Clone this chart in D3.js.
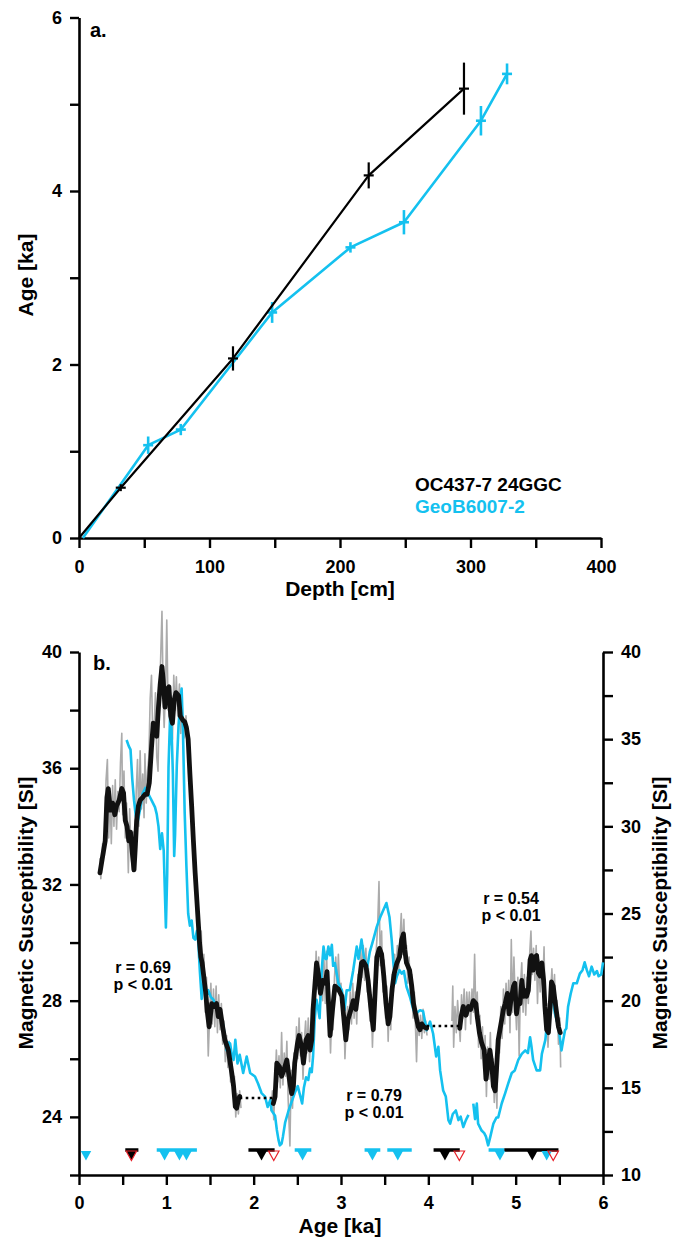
<!DOCTYPE html>
<html><head><meta charset="utf-8">
<script src="https://cdn.jsdelivr.net/npm/d3@7"></script>
<style>
body{margin:0;background:#fff;}
svg{display:block;font-family:"Liberation Sans",Arial,Helvetica,sans-serif;font-weight:bold;}
</style></head>
<body>
<svg id="c" width="688" height="1239"></svg>
<script>
// ---------- Panel a: age-depth ----------
const depthBlack = [0, 32, 118, 222, 295];
const ageBlack   = [0, 0.58, 2.07, 4.18, 5.18];
const errBlack   = [0, 0.04, 0.14, 0.15, 0.30];
const depthCyan  = [3, 53, 78, 148, 208, 249, 308, 328];
const ageCyan    = [0, 1.07, 1.25, 2.60, 3.35, 3.64, 4.81, 5.35];
const errCyan    = [0, 0.10, 0.065, 0.12, 0.06, 0.14, 0.17, 0.12];
const depthTicks = [0, 50, 100, 150, 200, 250, 300, 350, 400];
const ageTicksA  = [0, 1, 2, 3, 4, 5, 6];

// ---------- Panel b: magnetic susceptibility vs age ----------
// OC437-7 24GGC raw (gray), left axis
const grayRaw = [
[0.24,32.9],[0.25,32.2],[0.27,33.4],[0.29,33.0],[0.31,35.6],[0.325,36.3],[0.34,33.6],[0.355,35.2],[0.37,33.4],[0.385,35.4],[0.40,34.0],[0.415,35.6],[0.43,33.9],[0.445,35.2],[0.46,34.5],[0.475,36.2],[0.49,37.2],[0.50,34.4],[0.515,35.9],[0.53,33.6],[0.545,34.8],[0.565,32.4],[0.58,34.6],[0.595,33.2],[0.61,32.5],[0.625,33.8],[0.64,32.9],[0.655,35.2],[0.67,36.3],[0.685,34.0],[0.70,36.6],[0.715,34.6],[0.73,35.8],[0.745,34.3],[0.755,36.5],[0.77,34.8],[0.785,35.9],[0.80,36.4],[0.815,38.4],[0.83,39.2],[0.845,37.0],[0.86,37.3],[0.875,38.6],[0.89,36.4],[0.905,35.9],[0.92,38.4],[0.935,39.8],[0.95,41.4],[0.965,38.3],[0.975,37.4],[0.99,38.6],[1.005,41.1],[1.02,38.0],[1.04,38.0],[1.055,36.8],[1.07,37.0],[1.085,39.2],[1.10,38.0],[1.115,39.15],[1.13,37.8],[1.15,38.9],[1.165,37.2],[1.18,38.3],[1.195,37.0],[1.21,37.1],[1.225,37.8],[1.24,36.9],[1.26,36.6],[1.275,35.0],[1.29,35.3],[1.31,33.0],[1.33,32.8],[1.35,30.8],[1.37,30.6],[1.385,29.0],[1.40,30.4],[1.415,28.4],[1.43,29.6],[1.445,27.6],[1.46,28.8],[1.48,26.1],[1.495,27.4],[1.51,28.6],[1.525,27.2],[1.54,28.4],[1.555,27.1],[1.57,28.5],[1.585,26.9],[1.60,28.2],[1.615,27.0],[1.63,27.9],[1.645,26.5],[1.66,27.3],[1.675,25.9],[1.69,26.8],[1.705,25.7],[1.72,26.6],[1.735,25.2],[1.75,25.9],[1.765,24.7],[1.78,25.4],[1.795,24.0],[1.81,24.8],[1.825,24.1],[1.84,24.9],[1.855,24.3],
null,
[2.20,24.2],[2.215,24.9],[2.23,23.9],[2.245,25.2],[2.26,26.3],[2.275,25.2],[2.29,26.1],[2.305,25.0],[2.32,26.9],[2.335,25.1],[2.35,26.2],[2.365,25.4],[2.38,26.6],[2.395,24.6],[2.415,23.0],[2.43,25.6],[2.445,24.3],[2.46,26.2],[2.475,25.4],[2.49,27.1],[2.505,26.0],[2.52,27.4],[2.535,26.1],[2.55,26.9],[2.565,25.3],[2.58,26.6],[2.595,27.3],[2.61,26.2],[2.625,27.4],[2.64,25.9],[2.655,27.1],[2.67,26.4],[2.685,28.3],[2.70,28.0],[2.715,29.7],[2.73,28.4],[2.745,29.5],[2.76,27.8],[2.775,29.1],[2.79,28.0],[2.805,29.4],[2.82,27.9],[2.835,29.7],[2.85,27.4],[2.865,27.9],[2.88,26.2],[2.895,27.6],[2.91,27.0],[2.925,28.8],[2.94,29.5],[2.955,28.3],[2.97,29.6],[2.985,28.4],[3.00,28.6],[3.015,27.5],[3.03,28.2],[3.045,26.0],[3.06,27.2],[3.075,27.8],[3.09,27.0],[3.105,28.3],[3.12,27.2],[3.135,28.6],[3.15,27.4],[3.165,28.3],[3.18,27.2],[3.195,28.9],[3.21,28.2],[3.225,29.9],[3.24,28.8],[3.255,29.9],[3.27,28.7],[3.285,29.8],[3.30,28.3],[3.315,29.1],[3.33,27.3],[3.345,28.2],[3.36,26.4],[3.375,27.8],[3.39,28.9],[3.405,29.8],[3.42,30.6],[3.435,32.1],[3.45,29.2],[3.465,30.4],[3.48,28.3],[3.495,29.4],[3.51,27.4],[3.525,28.5],[3.54,26.6],[3.555,28.1],[3.57,27.0],[3.585,28.9],[3.60,28.3],[3.615,29.6],[3.63,28.7],[3.645,29.9],[3.66,29.0],[3.675,30.1],[3.69,31.0],[3.705,29.6],[3.72,30.8],[3.735,29.3],[3.75,29.9],[3.765,28.6],[3.78,29.5],[3.795,28.1],[3.81,28.9],[3.825,27.4],[3.84,28.3],[3.855,26.9],[3.865,25.9],[3.88,27.6],[3.895,26.8],[3.91,27.5],[3.925,26.7],[3.94,27.7],[3.955,26.9],[3.97,27.3],[3.985,26.8],
null,
[4.27,27.3],[4.28,28.5],[4.29,26.4],[4.305,27.8],[4.32,26.9],[4.335,28.0],[4.35,27.3],[4.365,26.6],[4.38,28.2],[4.395,27.4],[4.41,28.4],[4.425,27.0],[4.44,28.3],[4.455,27.5],[4.47,28.3],[4.485,27.2],[4.50,28.4],[4.515,27.6],[4.53,29.6],[4.545,27.4],[4.56,28.3],[4.575,26.4],[4.59,27.5],[4.605,26.0],[4.62,27.1],[4.635,25.6],[4.65,26.8],[4.665,24.7],[4.68,26.4],[4.695,25.3],[4.71,26.9],[4.725,25.2],[4.74,26.0],[4.755,24.5],[4.77,25.6],[4.785,24.3],[4.80,26.9],[4.815,26.2],[4.83,27.8],[4.845,26.7],[4.86,28.4],[4.875,27.2],[4.89,28.6],[4.905,27.5],[4.92,28.7],[4.935,26.9],[4.95,30.1],[4.965,27.6],[4.98,29.5],[4.995,28.0],[5.01,27.0],[5.025,28.8],[5.04,26.1],[5.055,28.5],[5.07,29.3],[5.085,27.6],[5.10,28.9],[5.115,27.5],[5.13,28.8],[5.145,27.9],[5.16,29.6],[5.175,30.4],[5.19,28.9],[5.205,29.8],[5.22,28.7],[5.235,29.9],[5.25,27.9],[5.265,29.4],[5.28,28.3],[5.295,29.2],[5.31,28.5],[5.325,29.85],[5.34,27.3],[5.355,27.9],[5.37,26.4],[5.385,27.5],[5.40,28.3],[5.415,29.1],[5.43,28.0],[5.445,28.9],[5.46,27.3],[5.475,28.0],[5.49,26.5],[5.505,27.4],[5.515,25.7]
];

// OC437-7 24GGC smoothed (black), left axis
const blackSmooth = [
[0.24,32.4],[0.27,32.96],[0.30,33.5],[0.32,35.0],[0.335,35.3],[0.36,34.56],[0.385,34.8],[0.41,34.4],[0.43,34.7],[0.46,34.9],[0.49,35.3],[0.51,35.15],[0.53,34.2],[0.55,34.0],[0.57,33.5],[0.59,33.8],[0.61,33.1],[0.63,32.5],[0.645,33.3],[0.66,34.2],[0.68,34.7],[0.70,34.9],[0.73,35.0],[0.755,35.1],[0.78,35.1],[0.805,35.5],[0.83,36.7],[0.85,37.55],[0.87,37.3],[0.89,37.1],[0.91,38.1],[0.93,38.9],[0.95,39.5],[0.965,39.0],[0.985,38.1],[1.0,38.7],[1.03,38.8],[1.05,37.8],[1.07,37.55],[1.09,38.35],[1.11,38.6],[1.14,38.5],[1.16,37.8],[1.19,37.65],[1.21,37.6],[1.23,37.4],[1.25,37.0],[1.27,35.8],[1.29,34.7],[1.31,33.5],[1.33,32.4],[1.355,31.2],[1.38,30.0],[1.395,29.5],[1.41,29.3],[1.43,28.8],[1.45,28.3],[1.47,27.6],[1.49,27.1],[1.52,27.9],[1.545,27.8],[1.575,27.9],[1.595,27.45],[1.615,27.7],[1.645,27.1],[1.67,26.65],[1.71,26.3],[1.75,25.5],[1.77,25.05],[1.79,24.35],[1.805,24.3],[1.825,24.6],[1.84,24.7],
null,
[2.225,24.46],[2.245,24.7],[2.265,25.85],[2.295,25.73],[2.32,25.4],[2.345,25.6],[2.38,25.96],[2.41,25.27],[2.435,24.8],[2.455,25.05],[2.47,25.85],[2.50,26.5],[2.52,26.8],[2.55,26.4],[2.57,25.85],[2.60,26.65],[2.625,26.8],[2.645,26.3],[2.665,26.65],[2.68,27.7],[2.70,28.5],[2.72,29.3],[2.74,28.95],[2.765,28.25],[2.79,28.7],[2.82,28.6],[2.84,29.0],[2.875,26.8],[2.90,27.6],[2.93,28.5],[2.97,28.4],[3.01,28.15],[3.055,26.65],[3.08,27.35],[3.115,27.7],[3.14,28.0],[3.17,27.7],[3.20,28.4],[3.235,29.3],[3.255,29.35],[3.285,29.2],[3.31,28.7],[3.34,27.8],[3.37,27.0],[3.39,28.25],[3.41,29.5],[3.44,29.8],[3.465,29.6],[3.49,28.85],[3.515,27.9],[3.54,27.2],[3.56,27.45],[3.585,28.4],[3.61,28.95],[3.64,29.3],[3.67,29.5],[3.695,30.1],[3.715,30.3],[3.73,29.75],[3.75,29.3],[3.785,29.05],[3.81,28.5],[3.83,27.9],[3.86,27.45],[3.885,27.1],[3.905,27.0],[3.925,27.2],[3.95,27.1],[3.98,27.05],
null,
[4.36,27.05],[4.375,27.45],[4.40,27.8],[4.43,27.5],[4.46,27.8],[4.485,27.7],[4.515,28.0],[4.545,27.9],[4.56,27.45],[4.585,26.9],[4.61,26.55],[4.64,26.3],[4.66,25.3],[4.685,25.85],[4.705,26.3],[4.725,25.85],[4.745,25.05],[4.765,24.9],[4.78,25.6],[4.80,26.65],[4.82,27.0],[4.84,27.35],[4.86,27.7],[4.88,27.9],[4.905,28.25],[4.925,27.55],[4.945,28.0],[4.975,28.5],[4.99,28.6],[5.01,27.55],[5.03,28.0],[5.05,27.9],[5.07,28.7],[5.09,28.15],[5.11,28.35],[5.125,28.15],[5.145,28.35],[5.165,29.4],[5.18,29.55],[5.20,29.05],[5.22,29.5],[5.24,29.55],[5.26,28.95],[5.28,28.85],[5.30,29.3],[5.32,28.7],[5.335,27.8],[5.355,27.0],[5.375,26.9],[5.395,27.8],[5.41,28.65],[5.43,28.5],[5.45,28.0],[5.47,27.55],[5.49,27.1],[5.51,26.9]
];

// Gaps bridged by dotted lines (left axis)
const gapLinks = [[[1.84,24.65],[2.22,24.65]], [[3.98,27.13],[4.36,27.13]]];

// GeoB6007-2 (cyan), right axis
const cyanSeries = [
[0.545,34.95],[0.57,34.6],[0.59,34.4],[0.61,32.7],[0.63,31.5],[0.65,30.6],[0.67,30.2],[0.70,31.0],[0.73,31.9],[0.76,32.2],[0.79,31.9],[0.83,31.5],[0.87,31.1],[0.89,30.7],[0.91,30.0],[0.93,28.7],[0.95,29.6],[0.97,28.6],[0.995,24.2],[1.01,27.3],[1.025,33.4],[1.045,36.6],[1.06,35.5],[1.075,33.0],[1.09,28.3],[1.10,29.5],[1.12,33.5],[1.14,35.8],[1.16,37.2],[1.175,37.9],[1.19,35.6],[1.21,30.8],[1.23,27.7],[1.25,25.0],[1.27,24.3],[1.29,24.6],[1.31,23.6],[1.33,23.5],[1.35,24.0],[1.365,23.4],[1.385,21.6],[1.405,20.1],[1.42,20.9],[1.44,20.7],[1.46,20.3],[1.48,20.6],[1.51,20.2],[1.54,20.05],[1.57,19.6],[1.60,19.4],[1.615,19.45],[1.635,18.9],[1.655,18.5],[1.67,17.9],[1.69,17.15],[1.71,17.6],[1.73,17.55],[1.75,16.9],[1.77,16.6],[1.79,17.75],[1.815,16.4],[1.84,16.9],[1.88,15.85],[1.92,16.8],[1.96,15.85],[2.015,15.65],[2.05,15.25],[2.09,14.7],[2.13,14.5],[2.16,13.9],[2.19,14.3],[2.205,13.7],[2.245,13.4],[2.265,12.6],[2.285,12.0],[2.30,11.7],[2.32,11.8],[2.335,12.2],[2.36,13.0],[2.40,13.7],[2.435,14.2],[2.47,14.7],[2.505,15.1],[2.53,14.6],[2.555,14.1],[2.575,15.0],[2.60,15.6],[2.625,15.45],[2.645,16.1],[2.665,15.9],[2.68,16.8],[2.70,19.0],[2.72,20.05],[2.74,19.5],[2.755,19.0],[2.78,21.8],[2.80,23.1],[2.82,22.4],[2.835,22.4],[2.855,23.1],[2.875,22.6],[2.895,23.2],[2.91,22.0],[2.93,22.15],[2.97,21.0],[3.01,20.6],[3.04,19.45],[3.065,20.6],[3.10,20.6],[3.14,21.75],[3.18,23.1],[3.20,22.4],[3.235,23.5],[3.26,22.6],[3.295,21.75],[3.33,22.8],[3.37,23.5],[3.41,24.25],[3.45,24.8],[3.485,25.2],[3.52,25.6],[3.555,24.8],[3.58,23.5],[3.60,22.15],[3.62,21.0],[3.64,21.4],[3.67,21.75],[3.695,21.55],[3.72,21.7],[3.75,20.8],[3.79,20.2],[3.83,19.45],[3.865,19.3],[3.905,19.45],[3.94,19.4],[3.98,18.3],[4.02,18.8],[4.055,18.1],[4.09,16.8],[4.115,17.35],[4.135,16.0],[4.17,14.85],[4.20,14.5],[4.23,13.15],[4.25,12.95],[4.28,13.5],[4.315,13.7],[4.345,13.15],[4.37,13.35],[4.40,12.75],[4.43,13.15],[4.46,13.45],
null,
[4.515,14.1],[4.535,13.2],[4.555,14.1],[4.57,12.95],[4.61,12.55],[4.64,12.4],[4.66,12.2],[4.685,11.7],[4.71,12.2],[4.745,12.95],[4.78,13.3],[4.80,13.3],[4.84,14.1],[4.88,14.7],[4.915,15.25],[4.955,15.85],[4.99,16.0],[5.03,16.6],[5.07,16.95],[5.11,17.15],[5.14,17.0],[5.165,17.9],[5.18,17.4],[5.20,16.6],[5.24,16.0],[5.28,16.0],[5.30,16.95],[5.32,17.35],[5.34,17.75],[5.355,18.5],[5.375,19.1],[5.395,19.65],[5.41,20.2],[5.43,19.9],[5.45,19.25],[5.49,18.5],[5.525,17.15],[5.545,17.75],[5.565,18.3],[5.58,18.4],[5.60,19.65],[5.63,20.4],[5.66,21.0],[5.70,21.0],[5.735,21.55],[5.765,21.75],[5.79,22.2],[5.815,21.75],[5.84,21.4],[5.87,21.95],[5.90,21.5],[5.93,21.7],[5.95,21.4],[5.98,21.5],[6.0,22.2]
];

// Radiocarbon dates (ka) and their age ranges
const datesBlack = [0.60, 2.09, 4.19, 5.19];
const rangesBlack = [[0.53,0.68],[1.94,2.24],[4.06,4.36],[4.87,5.49]];
const datesRed = [0.60, 2.23, 4.355, 5.43];
const datesCyan = [0.08, 0.98, 1.15, 1.23, 2.56, 3.36, 3.65, 4.82, 5.355];
const rangesCyan = [[0.89,1.35],[2.47,2.66],[3.27,3.45],[3.53,3.81],[4.69,4.87]];

const ageTicksB = [0,0.5,1,1.5,2,2.5,3,3.5,4,4.5,5,5.5,6];
const leftTicks = [22,24,26,28,30,32,34,36,38,40];
const rightTicks = [10,12.5,15,17.5,20,22.5,25,27.5,30,32.5,35,37.5,40];

const stats = [
  {r:"r = 0.69", p:"p < 0.01", x:143, y:973},
  {r:"r = 0.79", p:"p < 0.01", x:374, y:1101},
  {r:"r = 0.54", p:"p < 0.01", x:511, y:904}
];

// ---------- drawing ----------
const CYAN = "#14c1ef", RED = "#e8232b", GRAY = "#ababab";
const svg = d3.select("#c");

function styleAxis(g){
  g.select(".domain").attr("stroke","#000").attr("stroke-width",2.6);
  g.selectAll(".tick line").attr("stroke","#000").attr("stroke-width",2.4);
  g.selectAll(".tick text").attr("fill","#000").style("font-size","18px")
    .style("font-family",'"Liberation Sans",Arial,sans-serif').style("font-weight","bold");
}

// Panel a
const xA = d3.scaleLinear([0,400],[79,601]);
const yA = d3.scaleLinear([0,6],[538,17.5]);

svg.append("g").attr("transform","translate(0,538)")
  .call(d3.axisBottom(xA).tickValues(depthTicks).tickFormat(d=>d%100===0?d:"").tickSize(10).tickSizeOuter(0).tickPadding(12))
  .call(styleAxis);
svg.append("g").attr("transform","translate(79,0)")
  .call(d3.axisLeft(yA).tickValues(ageTicksA).tickFormat(d=>d%2===0?d:"").tickSize(9).tickSizeOuter(0).tickPadding(8))
  .call(styleAxis);

const lineA = d3.line().x(d=>xA(d[0])).y(d=>yA(d[1]));
const ptsB = depthBlack.map((d,i)=>[d,ageBlack[i],errBlack[i]]);
const ptsC = depthCyan.map((d,i)=>[d,ageCyan[i],errCyan[i]]);

function drawAgeModel(pts,color,w){
  svg.append("path").datum(pts).attr("d",lineA).attr("fill","none")
    .attr("stroke",color).attr("stroke-width",w).attr("stroke-linejoin","round");
  const g = svg.append("g").attr("stroke",color).attr("stroke-width",w);
  pts.filter(p=>p[2]>0).forEach(p=>{
    g.append("line").attr("x1",xA(p[0])).attr("x2",xA(p[0]))
      .attr("y1",yA(p[1]-p[2])).attr("y2",yA(p[1]+p[2]));
    g.append("line").attr("x1",xA(p[0])-5).attr("x2",xA(p[0])+5)
      .attr("y1",yA(p[1])).attr("y2",yA(p[1]));
  });
}
drawAgeModel(ptsC,CYAN,2.6);
drawAgeModel(ptsB,"#000",2.2);

svg.append("text").attr("x",90).attr("y",37).style("font-size","20px").text("a.");
svg.append("text").attr("x",415).attr("y",491).style("font-size","19px").attr("fill","#000").text("OC437-7 24GGC");
svg.append("text").attr("x",415).attr("y",513).style("font-size","19px").attr("fill",CYAN).text("GeoB6007-2");
svg.append("text").attr("x",340).attr("y",596).attr("text-anchor","middle").style("font-size","21px").text("Depth [cm]");
svg.append("text").attr("transform","translate(33,275) rotate(-90)").attr("text-anchor","middle").style("font-size","21px").text("Age [ka]");

// Panel b
const xB = d3.scaleLinear([0,6],[79,603]);
const yL = d3.scaleLinear([22,40],[1175,652]);
const yR = d3.scaleLinear([10,40],[1175,652]);

svg.append("g").attr("transform","translate(0,1175)")
  .call(d3.axisBottom(xB).tickValues(ageTicksB).tickFormat(d=>Number.isInteger(d)?d:"").tickSize(10).tickSizeOuter(0).tickPadding(11))
  .call(styleAxis);
svg.append("g").attr("transform","translate(79,0)")
  .call(d3.axisLeft(yL).tickValues(leftTicks).tickFormat(d=>(d%4===0)?d:"").tickSize(9).tickSizeOuter(0).tickPadding(8))
  .call(styleAxis);
svg.append("g").attr("transform","translate(603,0)")
  .call(d3.axisRight(yR).tickValues(rightTicks).tickFormat(d=>(d%5===0)?d:"").tickSize(10).tickSizeOuter(0).tickPadding(8))
  .call(styleAxis);

const lineL = d3.line().defined(d=>d!==null).x(d=>xB(d[0])).y(d=>yL(d[1]));
const lineR = d3.line().defined(d=>d!==null).x(d=>xB(d[0])).y(d=>yR(d[1]));

svg.append("path").datum(grayRaw).attr("d",lineL).attr("fill","none")
  .attr("stroke",GRAY).attr("stroke-width",1.6).attr("stroke-linejoin","round");
svg.append("path").datum(cyanSeries).attr("d",lineR).attr("fill","none")
  .attr("stroke",CYAN).attr("stroke-width",2.6).attr("stroke-linejoin","round");
svg.append("path").datum(blackSmooth).attr("d",lineL).attr("fill","none")
  .attr("stroke","#111").attr("stroke-width",4.8).attr("stroke-linejoin","round").attr("stroke-linecap","round");
gapLinks.forEach(seg=>{
  svg.append("path").datum(seg).attr("d",lineL).attr("fill","none")
    .attr("stroke","#000").attr("stroke-width",2.6).attr("stroke-dasharray","2.6,3.4");
});

// Date markers
const barY = 1150, triTop = 1151, triH = 9.5, triW = 10.5;
const tri = a => `M${xB(a)-triW/2},${triTop}L${xB(a)+triW/2},${triTop}L${xB(a)},${triTop+triH}Z`;
rangesCyan.forEach(r=>svg.append("line").attr("x1",xB(r[0])).attr("x2",xB(r[1])).attr("y1",barY).attr("y2",barY).attr("stroke",CYAN).attr("stroke-width",3.5));
rangesBlack.forEach(r=>svg.append("line").attr("x1",xB(r[0])).attr("x2",xB(r[1])).attr("y1",barY).attr("y2",barY).attr("stroke","#000").attr("stroke-width",3.5));
datesCyan.forEach(a=>svg.append("path").attr("d",tri(a)).attr("fill",CYAN));
datesBlack.forEach(a=>svg.append("path").attr("d",tri(a)).attr("fill","#000"));
datesRed.forEach(a=>svg.append("path").attr("d",tri(a)).attr("fill","none").attr("stroke",RED).attr("stroke-width",1.2));

// Labels
svg.append("text").attr("x",93).attr("y",670).style("font-size","20px").text("b.");
stats.forEach(s=>{
  svg.append("text").attr("x",s.x).attr("y",s.y).attr("text-anchor","middle").style("font-size","16px").text(s.r);
  svg.append("text").attr("x",s.x).attr("y",s.y+17).attr("text-anchor","middle").style("font-size","16px").text(s.p);
});
svg.append("text").attr("x",340).attr("y",1233).attr("text-anchor","middle").style("font-size","21px").text("Age [ka]");
svg.append("text").attr("transform","translate(33,913) rotate(-90)").attr("text-anchor","middle").style("font-size","21px").text("Magnetic Susceptibility [SI]");
svg.append("text").attr("transform","translate(667,913) rotate(-90)").attr("text-anchor","middle").style("font-size","21px").text("Magnetic Susceptibility [SI]");
</script>
</body></html>
